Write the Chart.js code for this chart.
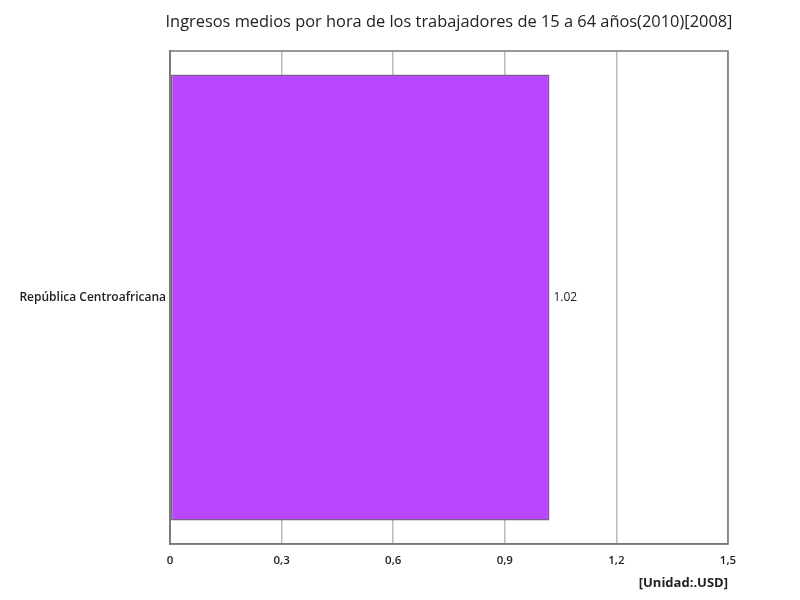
<!DOCTYPE html>
<html>
<head>
<meta charset="utf-8">
<script src="https://cdn.jsdelivr.net/npm/chart.js@4"></script>
<style>
  html, body { margin: 0; padding: 0; background: #fff; }
  #wrap { width: 800px; height: 600px; }
</style>
</head>
<body>
<div id="wrap"><canvas id="chart1" width="800" height="600"></canvas></div>
<script>
var countries = ['República Centroafricana'];
var earnings = [1.02];
var valueLabels = ['1.02'];
var xTicks = [0, 0.3, 0.6, 0.9, 1.2, 1.5];

var chartTitle = 'Ingresos medios por hora de los trabajadores de 15 a 64 años(2010)[2008]';
var unitText = '[Unidad:.USD]';
var fontName = '"Open Sans", "Noto Sans", sans-serif';

var ctx = document.getElementById('chart1').getContext('2d');

// title, outer box, bar value labels and unit text
var extras = {
	id: 'extras',
	afterDraw: function(chart) {
		var c = chart.ctx;
		var area = chart.chartArea;
		c.save();
		c.strokeStyle = '#777';
		c.lineWidth = 1.5;
		c.strokeRect(area.left, area.top, area.right - area.left, area.bottom - area.top);

		c.fillStyle = '#222';
		c.font = '16.4px ' + fontName;
		c.textAlign = 'center';
		c.textBaseline = 'middle';
		c.fillText(chartTitle, (area.left + area.right) / 2, 22);

		var meta = chart.getDatasetMeta(0);
		c.font = '12px ' + fontName;
		c.textAlign = 'left';
		meta.data.forEach(function(bar, i) {
			c.fillText(valueLabels[i], bar.x + 4, bar.y);
		});

		c.font = 'bold 13px ' + fontName;
		c.textAlign = 'right';
		c.fillText(unitText, area.right, 583);
		c.restore();
	}
};

var chart1 = new Chart(ctx, {
	type: 'bar',
	data: {
		labels: countries,
		datasets: [{
			data: earnings,
			backgroundColor: '#b847ff',
			borderColor: '#7a6088',
			borderWidth: 1.5,
			borderSkipped: false,
			barPercentage: 0.905,
			categoryPercentage: 1
		}]
	},
	options: {
		indexAxis: 'y',
		responsive: false,
		animation: false,
		layout: { padding: { top: 51, right: 72, left: 0, bottom: 0 } },
		plugins: {
			legend: { display: false },
			title: { display: false },
			tooltip: { enabled: false }
		},
		scales: {
			x: {
				min: 0,
				max: 1.5,
				afterBuildTicks: function(axis) {
					axis.ticks = xTicks.map(function(v) { return { value: v }; });
				},
				afterFit: function(axis) { axis.height = 56; },
				grid: { color: '#bbb', lineWidth: 1.5, drawTicks: false },
				border: { color: '#777', width: 1.5 },
				ticks: {
					padding: 10,
					color: '#222',
					font: { family: fontName, size: 11.5, weight: '600' },
					maxRotation: 0,
					callback: function(v) { return String(v).replace('.', ','); }
				}
			},
			y: {
				afterFit: function(axis) { axis.width = 170; },
				grid: { display: false, drawTicks: false },
				border: { color: '#777', width: 1.5 },
				ticks: {
					padding: 4,
					color: '#222',
					font: { family: fontName, size: 12, weight: '600' }
				}
			}
		}
	},
	plugins: [extras]
});
</script>
</body>
</html>
